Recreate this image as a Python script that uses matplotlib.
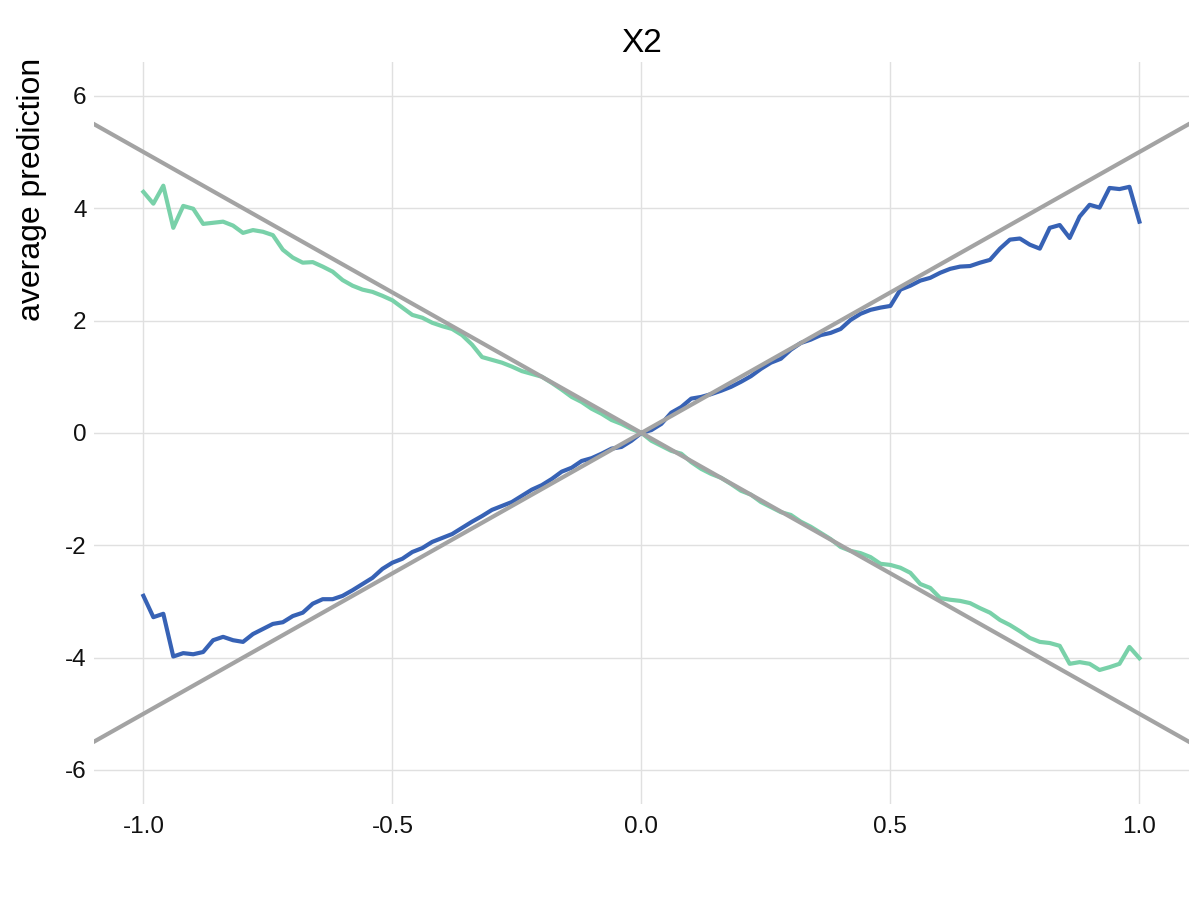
import numpy as np
import matplotlib
matplotlib.use("Agg")
import matplotlib.pyplot as plt

plt.rcParams['font.family'] = ['Liberation Sans', 'DejaVu Sans']
plt.rcParams['axes.unicode_minus'] = False

x_vals = [round(-1 + 0.02 * i, 2) for i in range(101)]

green_vals = [
    4.29, 4.08, 4.40, 3.65, 4.04, 3.99, 3.72, 3.74, 3.76, 3.69,
    3.56, 3.61, 3.58, 3.52, 3.26, 3.12, 3.03, 3.04, 2.96, 2.87,
    2.72, 2.62, 2.55, 2.51, 2.44, 2.36, 2.23, 2.10, 2.05, 1.96,
    1.90, 1.85, 1.74, 1.57, 1.35, 1.30, 1.25, 1.18, 1.10, 1.05,
    1.00, 0.89, 0.77, 0.64, 0.55, 0.43, 0.34, 0.23, 0.16, 0.07,
    0.00, -0.14, -0.23, -0.32, -0.37, -0.52, -0.64, -0.73, -0.80, -0.91,
    -1.03, -1.10, -1.23, -1.32, -1.41, -1.46, -1.58, -1.67, -1.78, -1.89,
    -2.03, -2.10, -2.14, -2.21, -2.33, -2.35, -2.40, -2.49, -2.69, -2.76,
    -2.94, -2.97, -2.99, -3.03, -3.12, -3.20, -3.33, -3.42, -3.53, -3.65,
    -3.72, -3.74, -3.79, -4.11, -4.08, -4.11, -4.22, -4.17, -4.11, -3.81,
    -4.01,
]

blue_vals = [
    -2.90, -3.28, -3.22, -3.98, -3.92, -3.94, -3.90, -3.69, -3.63, -3.69,
    -3.72, -3.58, -3.49, -3.40, -3.37, -3.26, -3.20, -3.04, -2.96, -2.96,
    -2.90, -2.80, -2.69, -2.58, -2.42, -2.31, -2.24, -2.12, -2.05, -1.94,
    -1.87, -1.80, -1.69, -1.58, -1.48, -1.37, -1.30, -1.23, -1.12, -1.01,
    -0.93, -0.82, -0.69, -0.62, -0.50, -0.45, -0.37, -0.28, -0.25, -0.14,
    0.00, 0.05, 0.16, 0.36, 0.46, 0.61, 0.64, 0.69, 0.75, 0.82,
    0.91, 1.01, 1.14, 1.25, 1.32, 1.48, 1.60, 1.66, 1.74, 1.78,
    1.85, 2.01, 2.12, 2.19, 2.23, 2.26, 2.55, 2.62, 2.71, 2.76,
    2.85, 2.92, 2.96, 2.97, 3.03, 3.08, 3.28, 3.44, 3.46, 3.35,
    3.28, 3.65, 3.70, 3.47, 3.85, 4.06, 4.01, 4.36, 4.34, 4.38,
    3.76,
]

ref_x = [-1.1, 1.1]
ref_up = [-5.5, 5.5]
ref_down = [5.5, -5.5]

xticks = [-1.0, -0.5, 0.0, 0.5, 1.0]
xtick_labels = ['-1.0', '-0.5', '0.0', '0.5', '1.0']
yticks = [-6, -4, -2, 0, 2, 4, 6]

fig = plt.figure(figsize=(12, 9), dpi=100)
ax = fig.add_axes([0.078, 0.107, 0.913, 0.824])

ax.plot(x_vals, green_vals, color='#79d1a9', lw=3.0, zorder=3)
ax.plot(x_vals, blue_vals, color='#3762b5', lw=3.0, zorder=3)
ax.plot(ref_x, ref_up, color='#a3a3a3', lw=3.0, zorder=4)
ax.plot(ref_x, ref_down, color='#a3a3a3', lw=3.0, zorder=4)

ax.set_xlim(-1.1, 1.1)
ax.set_ylim(-6.6, 6.6)
ax.set_xticks(xticks)
ax.set_xticklabels(xtick_labels)
ax.set_yticks(yticks)
ax.grid(True, color='#e0e0e0', lw=1.0, zorder=0)
ax.set_axisbelow(True)
for s in ax.spines.values():
    s.set_visible(False)
ax.tick_params(axis='both', length=0, labelsize=17.5, colors='#111111')
ax.tick_params(axis='x', pad=9)
ax.tick_params(axis='y', pad=5)
ax.set_title('X2', fontsize=24, pad=7)
fig.text(0.027, 0.936, 'average prediction', rotation=90, fontsize=23,
         ha='center', va='top')

fig.savefig('out.png', dpi=100, facecolor='white')
